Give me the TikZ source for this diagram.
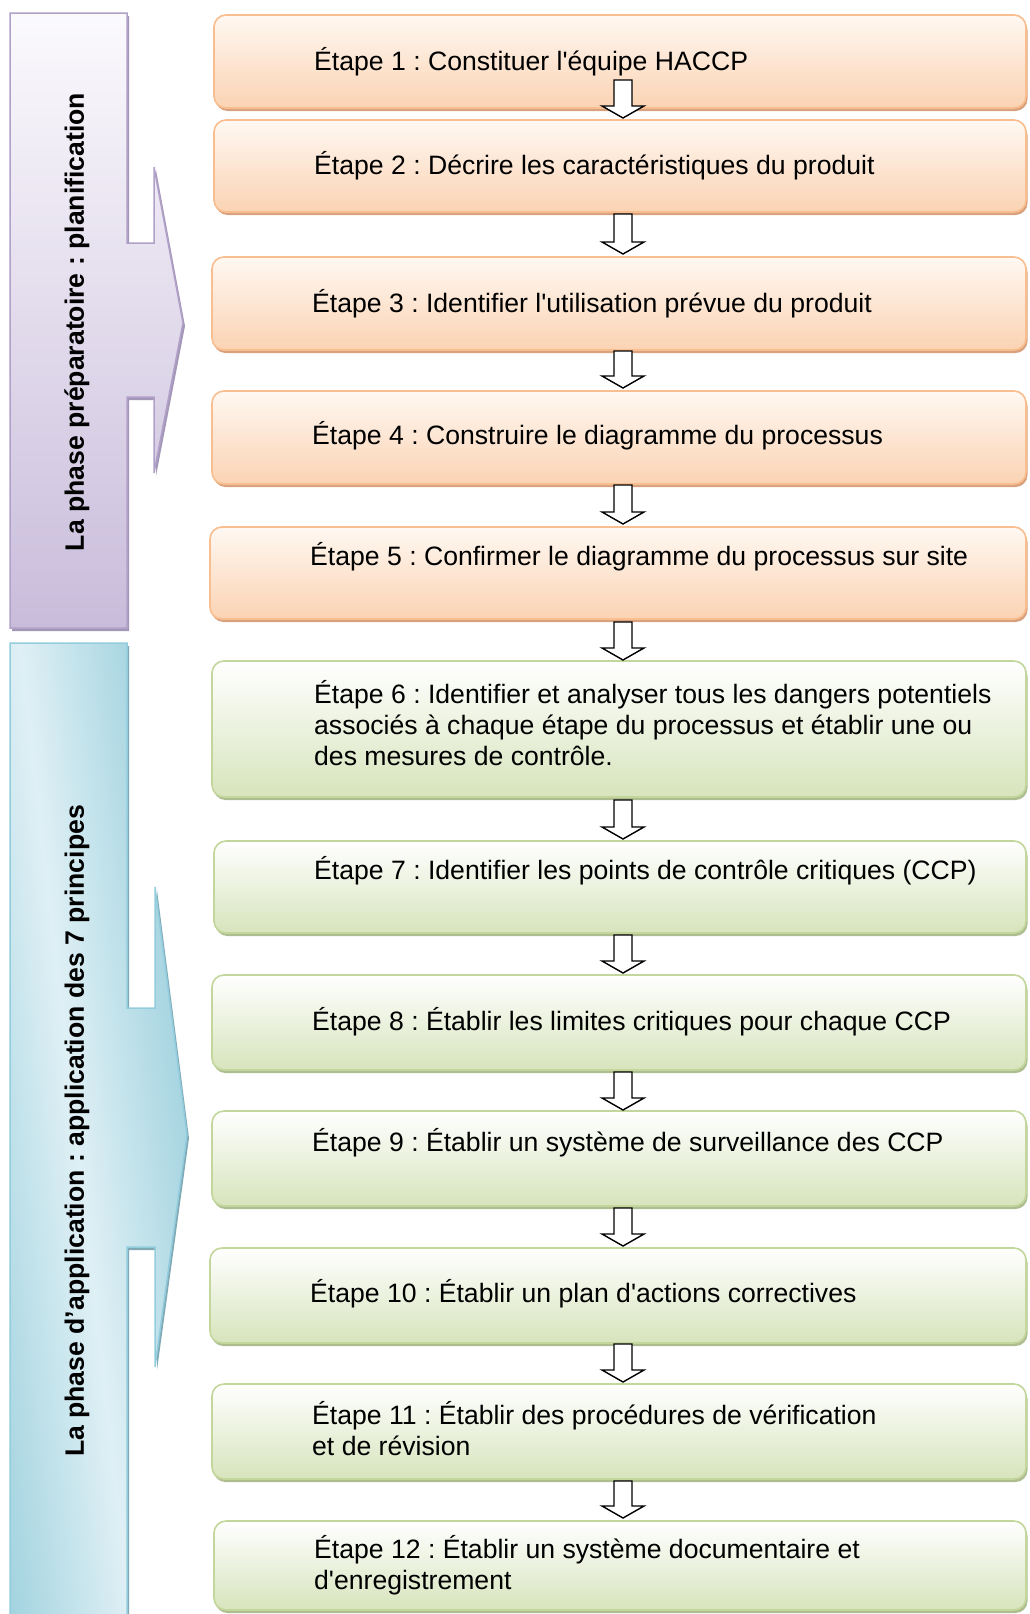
\documentclass[tikz,border=0pt]{standalone}
\usepackage{fontspec}
\newfontfamily\arialf{Liberation Sans}
\usetikzlibrary{calc,shadows}
\frenchspacing
\definecolor{orborder}{HTML}{F9BE8F}
\definecolor{ortop}{HTML}{FFF8F2}
\definecolor{orbot}{HTML}{FBD3B3}
\definecolor{orshadow}{HTML}{D9A27E}
\definecolor{grborder}{HTML}{C3D69B}
\definecolor{grtop}{HTML}{FFFFFF}
\definecolor{grbot}{HTML}{D7E4BC}
\definecolor{grshadow}{HTML}{AEBD90}
\definecolor{puborder}{HTML}{B1A0C7}
\definecolor{putop}{HTML}{FBFAFD}
\definecolor{pubot}{HTML}{C9BCDB}
\definecolor{pushadow}{HTML}{A397B8}
\definecolor{blborder}{HTML}{93CDDD}
\definecolor{bllight}{HTML}{DFF0F5}
\definecolor{bldark}{HTML}{9CD0DD}
\definecolor{blshadow}{HTML}{7FA9B5}
\pgfdeclarehorizontalshading{bluemir}{100bp}{color(0bp)=(bldark); color(28bp)=(bldark); color(50bp)=(bllight); color(72bp)=(bldark); color(100bp)=(bldark)}
\tikzset{
  basebox/.style={line width=1.6pt, rounded corners=12pt, inner sep=0pt, outer sep=0pt, anchor=north west},
  obox/.style={basebox, draw=orborder, top color=ortop, bottom color=orbot,
    drop shadow={shadow xshift=1.5pt, shadow yshift=-3pt, fill=orshadow, opacity=1}},
  gbox/.style={basebox, draw=grborder, top color=grtop, bottom color=grbot,
    drop shadow={shadow xshift=1.5pt, shadow yshift=-3pt, fill=grshadow, opacity=1}},
  steptext/.style={font=\arialf\fontsize{26.6}{31}\selectfont, align=left, inner sep=0pt, anchor=west, text=black},
  phasetext/.style={font=\arialf\bfseries\fontsize{26.6}{31}\selectfont, rotate=90, inner sep=0pt, text=black},
  hollow/.style={draw=black, fill=white, line width=1.4pt, line join=miter,
    to path={let \p1=(\tikztostart), \p2=(\tikztotarget) in
      (\x1-9pt,\y1) -- (\x1+9pt,\y1) -- (\x1+9pt,\y2+12pt) -- (\x1+21pt,\y2+12pt)
      -- (\x1,\y2) -- (\x1-21pt,\y2+12pt) -- (\x1-9pt,\y2+12pt) -- cycle}}
}
\begin{document}
\begin{tikzpicture}[x=1pt,y=-1pt]
\useasboundingbox (0,0) rectangle (1029,1614);
\fill[white] (0,0) rectangle (1029,1614);
% left phase arrows
\draw[draw=puborder, line width=1.5pt, top color=putop, bottom color=pubot,
  drop shadow={shadow xshift=2pt, shadow yshift=-3pt, fill=pushadow, opacity=1}]
  (10,13) -- (127,13) -- (127,243) -- (154,243) -- (154,167) -- (183,323)
  -- (154,473) -- (154,397) -- (127,397) -- (127,628) -- (10,628) -- cycle;
\fill[bldark, drop shadow={shadow xshift=2pt, shadow yshift=-3pt, fill=blshadow, opacity=1}]
  (10,643) -- (127,643) -- (127,1008) -- (155,1008) -- (155,887) -- (187,1135)
  -- (155,1367) -- (155,1247) -- (127,1247) -- (127,1625) -- (10,1625) -- cycle;
\begin{scope}
  \clip (10,643) -- (127,643) -- (127,1008) -- (155,1008) -- (155,887) -- (187,1135)
    -- (155,1367) -- (155,1247) -- (127,1247) -- (127,1625) -- (10,1625) -- cycle;
  \shade[shading=bluemir, transform canvas={rotate around={6.5:(75,1130)}}]
    (-75,500) rectangle (225,1760);
\end{scope}
\draw[draw=blborder, line width=1.5pt]
  (10,643) -- (127,643) -- (127,1008) -- (155,1008) -- (155,887) -- (187,1135)
  -- (155,1367) -- (155,1247) -- (127,1247) -- (127,1625) -- (10,1625) -- cycle;
\node[phasetext] (p1) at (77,322) {La phase préparatoire : planification};
\node[phasetext] (p2) at (77,1131) {La phase d’application : application des 7 principes};
% boxes
\node[obox, minimum width=812pt, minimum height=93pt] (b1) at (214,15) {};
\node[obox, minimum width=812pt, minimum height=92pt] (b2) at (214,120) {};
\node[obox, minimum width=814pt, minimum height=93pt] (b3) at (212,257) {};
\node[obox, minimum width=814pt, minimum height=93pt] (b4) at (212,391) {};
\node[obox, minimum width=816pt, minimum height=92pt] (b5) at (210,527) {};
\node[gbox, minimum width=814pt, minimum height=136pt] (b6) at (212,661) {};
\node[gbox, minimum width=812pt, minimum height=92pt] (b7) at (214,841) {};
\node[gbox, minimum width=814pt, minimum height=95pt] (b8) at (212,975) {};
\node[gbox, minimum width=814pt, minimum height=95pt] (b9) at (212,1111) {};
\node[gbox, minimum width=816pt, minimum height=95pt] (b10) at (210,1248) {};
\node[gbox, minimum width=814pt, minimum height=95pt] (b11) at (212,1384) {};
\node[gbox, minimum width=812pt, minimum height=89pt] (b12) at (214,1521) {};
% texts
\node[steptext] (t1) at (314,62) {Étape 1 : Constituer l'équipe HACCP};
\node[steptext] (t2) at (314,166) {Étape 2 : Décrire les caractéristiques du produit};
\node[steptext] (t3) at (312,304) {Étape 3 : Identifier l'utilisation prévue du produit};
\node[steptext] (t4) at (312,436) {Étape 4 : Construire le diagramme du processus};
\node[steptext] (t5) at (310,557) {Étape 5 : Confirmer le diagramme du processus sur site};
\node[steptext] (t6) at (314,723) {Étape 6 : Identifier et analyser tous les dangers potentiels\\associés à chaque étape du processus et établir une ou\\des mesures de contrôle.};
\node[steptext] (t7) at (314,871) {Étape 7 : Identifier les points de contrôle critiques (CCP)};
\node[steptext] (t8) at (312,1022) {Étape 8 : Établir les limites critiques pour chaque CCP};
\node[steptext] (t9) at (312,1143) {Étape 9 : Établir un système de surveillance des CCP};
\node[steptext] (t10) at (310,1294) {Étape 10 : Établir un plan d'actions correctives};
\node[steptext] (t11) at (312,1429) {Étape 11 : Établir des procédures de vérification\\et de révision};
\node[steptext] (t12) at (314,1565) {Étape 12 : Établir un système documentaire et\\d'enregistrement};
% connectors
\coordinate (ax) at (623,0);
\draw[hollow] ($(b1.south -| ax)+(0,-28)$) to ($(b2.north -| ax)+(0,-2)$);
\draw[hollow] ($(b2.south -| ax)+(0,2)$) to ($(b3.north -| ax)+(0,-3)$);
\draw[hollow] ($(b3.south -| ax)+(0,1)$) to ($(b4.north -| ax)+(0,-3)$);
\draw[hollow] ($(b4.south -| ax)+(0,1)$) to ($(b5.north -| ax)+(0,-3)$);
\draw[hollow] ($(b5.south -| ax)+(0,3)$) to ($(b6.north -| ax)+(0,-1)$);
\draw[hollow] ($(b6.south -| ax)+(0,3)$) to ($(b7.north -| ax)+(0,-2)$);
\draw[hollow] ($(b7.south -| ax)+(0,2)$) to ($(b8.north -| ax)+(0,-2)$);
\draw[hollow] ($(b8.south -| ax)+(0,2)$) to ($(b9.north -| ax)+(0,-1)$);
\draw[hollow] ($(b9.south -| ax)+(0,2)$) to ($(b10.north -| ax)+(0,-2)$);
\draw[hollow] ($(b10.south -| ax)+(0,1)$) to ($(b11.north -| ax)+(0,-2)$);
\draw[hollow] ($(b11.south -| ax)+(0,2)$) to ($(b12.north -| ax)+(0,-3)$);
\end{tikzpicture}
\end{document}
